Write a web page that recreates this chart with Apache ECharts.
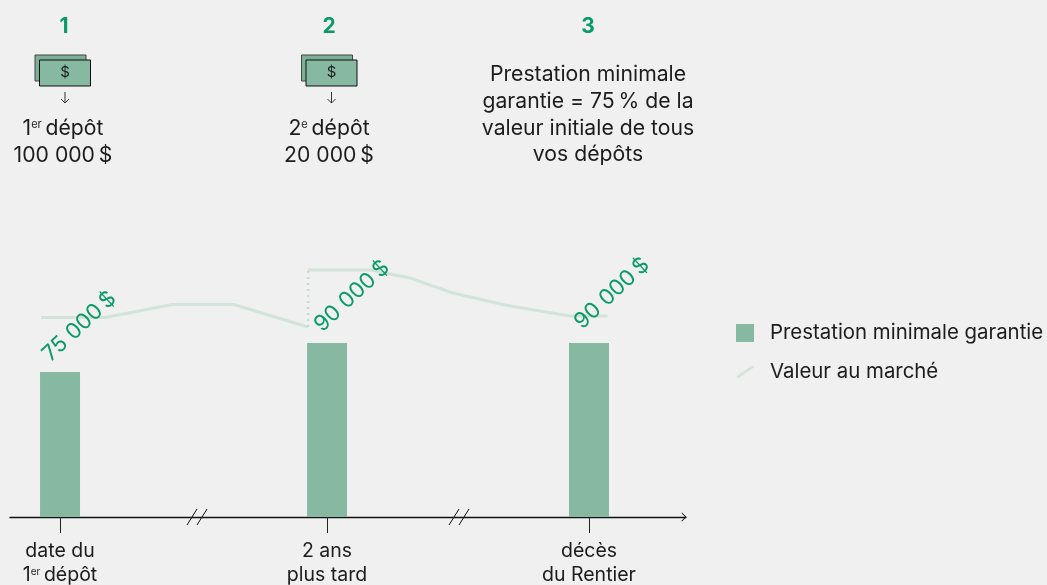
<!DOCTYPE html>
<html>
<head>
<meta charset="utf-8">
<style>html,body{margin:0;padding:0;background:#f0f0f0}#main{width:1047px;height:585px}</style>
<script src="https://cdn.jsdelivr.net/npm/echarts@6/dist/echarts.min.js"></script>
</head>
<body>
<div id="main"></div>
<script>
// axe x : 0 a 100 (temps, non a l'echelle), axe y : dollars
var barX = [7.4, 46.9, 85.65];
var barValues = [75000, 90000, 90000];
var barLabels = ['75 000\u2009$', '90 000\u2009$', '90 000\u2009$'];
var tickLabels = ['{d|date du}\n{d|1}{s|er}{d|\u2009dépôt}', '{d|2 ans}\n{d|plus tard}', '{d|décès}\n{d|du Rentier}'];
var marketX = [4.6, 14.1, 24, 33.1, 44.1, 44.1, 44.1, 53.3, 59.2, 65.4, 73.2, 82.8, 88.4];
var marketY = [103200, 103200, 109900, 109900, 98300, null, 127800, 127800, 123600, 116000, 109650, 104000, 104000];
var jumpX = [44.1, 44.1];
var jumpY = [98300, 127800];
var legendNames = ['Prestation minimale garantie', 'Valeur au marché'];
var stepTitles = ['1', '2', '3'];
var stepText = 'Prestation minimale\ngarantie = 75\u2009% de la\nvaleur initiale de tous\nvos dépôts';

var FONT = 'Inter';
var GREEN = '#0a9a68', BAR = '#87b9a2', LINE = '#d2e4da', INK = '#1c1c1c';
// l'offset est applique dans le repere tourne de l'etiquette
var labelOffsets = [[-4, -16.4], [0, -13.7], [0.5, -17]];

function pairs(xs, ys) {
  return xs.map(function (x, i) { return [x, ys[i]]; });
}

// petits billets + fleche au-dessus des depots
function moneyIcon(dx) {
  return [
    { type: 'rect', shape: { x: 35 + dx, y: 55, width: 51, height: 26 }, style: { fill: '#7bb096', stroke: '#444', lineWidth: 1 } },
    { type: 'rect', shape: { x: 39.5 + dx, y: 60, width: 51, height: 26 }, style: { fill: BAR, stroke: '#111', lineWidth: 1 } },
    { type: 'text', x: 65 + dx, y: 72, style: { text: '$', font: '15px ' + FONT, fill: INK, align: 'center', verticalAlign: 'middle' } },
    { type: 'polyline', shape: { points: [[65 + dx, 92], [65 + dx, 103]] }, style: { stroke: '#333', lineWidth: 1, fill: null } },
    { type: 'polyline', shape: { points: [[61 + dx, 99], [65 + dx, 103], [69 + dx, 99]] }, style: { stroke: '#333', lineWidth: 1, fill: null } }
  ];
}
function slash(x) {
  return { type: 'line', shape: { x1: x, y1: 525, x2: x + 10, y2: 509 }, style: { stroke: '#111', lineWidth: 1 } };
}
function label(text, x, y, size, color, weight) {
  return { type: 'text', x: x, y: y, style: {
    text: text, font: (weight || 'normal') + ' ' + size + 'px ' + FONT, fill: color, align: 'center', verticalAlign: 'middle',
    lineHeight: 26.7,
    rich: { d: { font: size + 'px ' + FONT, fill: color }, s: { font: '11px ' + FONT, fill: color, verticalAlign: 'middle', padding: [0, 0, 7, 0] } }
  } };
}

var graphics = []
  .concat(moneyIcon(0), moneyIcon(266.5))
  .concat([
    label(stepTitles[0], 64, 27, 21, GREEN, 'bold'),
    label(stepTitles[1], 329, 27, 21, GREEN, 'bold'),
    label(stepTitles[2], 588, 27, 21, GREEN, 'bold'),
    label('{d|1}{s|er}{d|\u2009dépôt}\n{d|100 000\u2009$}', 63, 142, 21.2, INK),
    label('{d|2}{s|e}{d|\u2009dépôt}\n{d|20 000\u2009$}', 329, 142, 21.2, INK),
    label(stepText, 588, 115, 21.2, INK),
    slash(187), slash(197), slash(449), slash(459)
  ]);

var myChart = echarts.init(document.getElementById('main'));
myChart.setOption({
  backgroundColor: '#f0f0f0',
  animation: false,
  textStyle: { fontFamily: FONT },
  grid: { left: 10, width: 676, top: 246.33, height: 270.67, outerBoundsMode: 'none' },
  xAxis: {
    type: 'value', min: 0, max: 100, splitLine: { show: false },
    axisLine: { show: true, onZero: true, lineStyle: { color: '#111', width: 1.3 },
      symbol: ['none', 'path://M0 10 L10 0 L20 10 L18.5 11 L10 2.6 L1.5 11 Z'], symbolSize: [10, 5], symbolOffset: [0, -2] },
    axisTick: { show: true, length: 16, customValues: barX, lineStyle: { color: '#222', width: 1 } },
    axisLabel: {
      show: true, margin: 22, color: INK, fontSize: 19.5, lineHeight: 24, customValues: barX,
      formatter: function (v) { return tickLabels[barX.indexOf(v)]; },
      rich: { d: { fontSize: 19.5, color: INK, lineHeight: 24 }, s: { fontSize: 10, color: INK, verticalAlign: 'middle', padding: [0, 0, 7, 0] } }
    }
  },
  yAxis: { type: 'value', min: 0, max: 140000, show: false, splitLine: { show: false } },
  legend: {
    orient: 'vertical', left: 731, top: 318, itemWidth: 18, itemHeight: 18, itemGap: 19, selectedMode: false,
    textStyle: { fontFamily: FONT, fontSize: 20.4, color: INK, padding: [0, 0, 0, 11] },
    data: [
      { name: legendNames[0], icon: 'rect' },
      { name: legendNames[1], icon: 'path://M0 16 L16 5 L18 7 L2 18 Z' }
    ]
  },
  series: [
    {
      name: legendNames[1], type: 'line', data: pairs(marketX, marketY), connectNulls: false, showSymbol: false, symbol: 'none',
      itemStyle: { color: LINE }, lineStyle: { color: LINE, width: 3 }, z: 2
    },
    {
      name: 'saut', type: 'line', data: pairs(jumpX, jumpY), showSymbol: false, symbol: 'none',
      lineStyle: { color: '#c4dacd', width: 2.5, type: [2, 4] }, z: 2
    },
    {
      name: legendNames[0], type: 'bar', barWidth: 40, itemStyle: { color: BAR }, z: 3,
      data: barX.map(function (x, i) { return { value: [x, barValues[i]], label: { offset: labelOffsets[i] } }; }),
      label: {
        show: true, position: 'top', rotate: 43, align: 'left', verticalAlign: 'middle', distance: 5,
        color: GREEN, fontSize: 22, fontFamily: FONT,
        formatter: function (p) { return barLabels[p.dataIndex]; }
      }
    }
  ],
  graphic: graphics
});
window.addEventListener('resize', function () { myChart.resize(); });
</script>
</body>
</html>
